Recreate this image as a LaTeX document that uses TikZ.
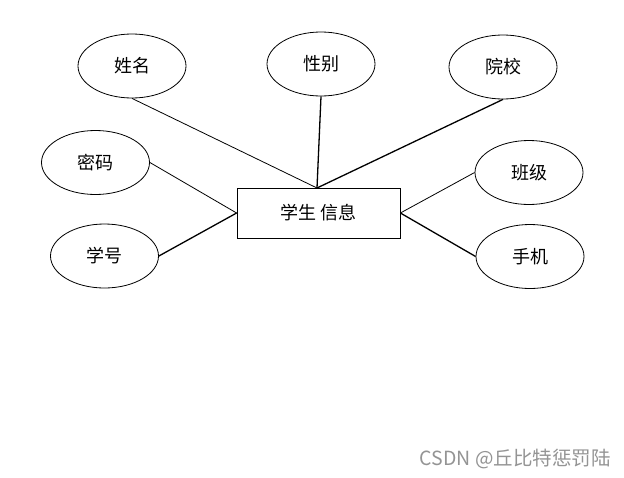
\documentclass[tikz,border=0pt]{standalone}
\usepackage{fontspec}
\setmainfont{Noto Sans CJK SC}
\newfontfamily\cjk{Noto Sans CJK SC}
\usetikzlibrary{shapes.geometric}
\begin{document}
\begin{tikzpicture}[x=1pt,y=-1pt,
  attr/.style={draw,ellipse,minimum width=108pt,minimum height=64pt,inner sep=0pt,font=\cjk\fontsize{18}{20}\selectfont,line width=0.8pt},
  ent/.style={draw,rectangle,minimum width=163pt,minimum height=50pt,inner sep=0pt,font=\cjk\fontsize{18}{20}\selectfont,line width=0.8pt},
  thin/.style={line width=0.8pt},
  thick/.style={line width=1.3pt}]
\useasboundingbox (0,0) rectangle (624,477);
\fill[white] (0,0) rectangle (624,477);
\node[ent] (e) at (318.5,213) {学生 信息};
\node[attr] (xm) at (132,66) {姓名};
\node[attr] (xb) at (321,64) {性别};
\node[attr] (yx) at (503,67) {院校};
\node[attr] (mm) at (95.5,162.5) {密码};
\node[attr] (xh) at (104.5,256) {学号};
\node[attr] (bj) at (529,172.5) {班级};
\node[attr] (sj) at (530,256.5) {手机};
\coordinate (top) at (317,188);
\draw[thin] (xm.south) -- (top);
\draw[thick] (xb.south) -- (top);
\draw[thick] (yx.south) -- (top);
\draw[thin] (mm.east) -- (e.west);
\draw[thick] (xh.east) -- (e.west);
\draw[thin] (bj.west) -- (e.east);
\draw[thick] (sj.west) -- (e.east);
\node[font=\cjk\fontsize{19.5}{21}\selectfont,text=black!42,anchor=east,inner sep=0pt] (wm) at (611,459) {CSDN @丘比特惩罚陆};
\end{tikzpicture}
\end{document}
